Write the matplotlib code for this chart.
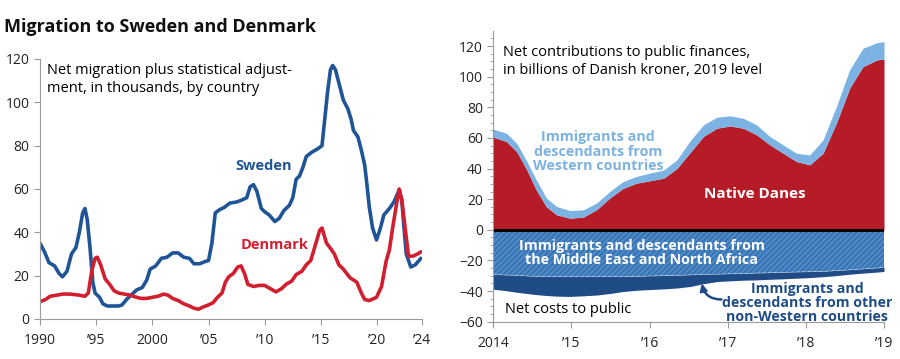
import numpy as np
import matplotlib
matplotlib.use("Agg")
import matplotlib.pyplot as plt

plt.rcParams['font.family'] = ['Open Sans', 'DejaVu Sans']
plt.rcParams['hatch.linewidth'] = 1.2

# ---- left panel: net migration, thousands ----
sweden_years = [1990.0, 1990.4, 1990.8, 1991.3, 1991.7, 1992.0, 1992.4, 1992.8, 1993.2, 1993.5,
                1993.8, 1994.0, 1994.2, 1994.45, 1994.7, 1994.9, 1995.3, 1995.6, 1996.0, 1996.5,
                1997.0, 1997.3, 1997.7, 1998.1, 1998.6, 1999.1, 1999.5, 1999.8, 2000.3, 2000.8,
                2001.3, 2001.8, 2002.3, 2002.8, 2003.3, 2003.7, 2004.2, 2004.7, 2005.0, 2005.3,
                2005.6, 2006.0, 2006.4, 2006.9, 2007.5, 2008.0, 2008.4, 2008.7, 2009.0, 2009.3,
                2009.7, 2010.0, 2010.4, 2010.9, 2011.3, 2011.7, 2012.2, 2012.5, 2012.8, 2013.1,
                2013.4, 2013.7, 2014.2, 2014.7, 2015.1, 2015.3, 2015.6, 2015.85, 2016.05, 2016.3,
                2016.6, 2017.0, 2017.4, 2017.7, 2017.9, 2018.3, 2018.6, 2018.9, 2019.1, 2019.3,
                2019.6, 2019.95, 2020.3, 2020.6, 2021.1, 2021.5, 2021.97, 2022.2, 2022.4, 2022.6,
                2023.0, 2023.4, 2023.9]
sweden_vals = [35, 31, 26, 24.5, 21, 19.5, 22, 30, 33, 40,
               49, 51, 46, 33, 17, 12, 10, 7, 6, 6,
               6, 6.5, 9, 11, 13.4, 14.5, 18, 23, 24.5, 28,
               28.5, 30.5, 30.5, 28.5, 28, 25.5, 25.5, 26.5, 27, 35,
               49, 50.5, 51.5, 53.5, 54, 55, 56, 61, 62, 59,
               51, 49.5, 48, 45, 46.5, 50, 52.5, 56, 64.5, 66,
               70, 75, 77, 78.5, 80, 90, 105, 115, 117, 115,
               109, 101, 97, 92, 87, 84, 78, 71, 62, 52,
               42, 36.5, 42, 48, 51, 54, 59.5, 55, 42, 30,
               24, 25, 28]

denmark_years = [1990.0, 1990.5, 1990.9, 1991.5, 1992.0, 1992.7, 1993.5, 1994.0, 1994.3, 1994.6,
                 1994.9, 1995.1, 1995.4, 1995.8, 1996.2, 1996.6, 1997.0, 1997.5, 1998.0, 1998.6,
                 1999.0, 1999.5, 2000.0, 2000.5, 2001.0, 2001.4, 2001.8, 2002.3, 2002.8, 2003.3,
                 2003.7, 2004.1, 2004.5, 2005.0, 2005.4, 2005.8, 2006.2, 2006.5, 2006.8, 2007.2,
                 2007.6, 2007.9, 2008.2, 2008.5, 2009.0, 2009.5, 2010.0, 2010.5, 2011.0, 2011.5,
                 2011.9, 2012.4, 2012.8, 2013.3, 2013.7, 2014.1, 2014.5, 2014.9, 2015.1, 2015.5,
                 2015.8, 2016.2, 2016.6, 2017.0, 2017.6, 2018.2, 2018.6, 2018.9, 2019.3, 2019.95,
                 2020.4, 2020.8, 2021.1, 2021.4, 2021.7, 2021.97, 2022.2, 2022.5, 2022.8, 2023.2,
                 2023.6, 2023.9]
denmark_vals = [8, 9, 10.5, 11, 11.5, 11.5, 11, 10.5, 12, 22,
                28, 28.5, 25, 18.5, 16, 13, 12, 11.5, 11, 10,
                9.5, 9.5, 10, 10.5, 11.5, 11, 9.5, 8.5, 7, 6,
                5, 4.5, 5.5, 6.5, 7.5, 10, 12, 17, 19.5, 21,
                24, 24.5, 21, 16, 15, 15.5, 15.5, 14, 12.5, 14,
                16, 17.5, 20.5, 22, 25, 27, 34, 41, 42, 35,
                33, 30, 25, 23, 19, 17, 12, 9, 8.5, 10,
                15, 26.5, 32, 42.5, 52, 60, 55, 42, 29, 29,
                30, 31]

left_ticks = [1990, 1995, 2000, 2005, 2010, 2015, 2020, 2024]
left_tick_labels = ['1990', '\u201995', '2000', '\u201905', '\u201910', '\u201915', '\u201920', '\u201924']

# ---- right panel: net contributions, billions DKK ----
fin_years = [2014.0, 2014.17, 2014.30, 2014.43, 2014.55, 2014.68, 2014.81, 2014.98,
             2015.15, 2015.32, 2015.49, 2015.66, 2015.83, 2016.0, 2016.18, 2016.35,
             2016.52, 2016.69, 2016.86, 2017.03, 2017.2, 2017.37, 2017.54, 2017.71,
             2017.88, 2018.05, 2018.22, 2018.39, 2018.56, 2018.73, 2018.91, 2019.0]
native_danes = [60.5, 57.6, 51, 39, 26, 15, 9.8, 7.6,
                8.3, 13, 20.7, 27, 30.4, 32, 33.7, 40,
                50.5, 61, 66.3, 67.8, 66.3, 62, 55.4, 50,
                44.6, 42.4, 50, 69.6, 92.4, 106.5, 110.9, 111.5]
western = [5.2, 5.4, 5.5, 5.6, 6.6, 5.7, 5.4, 5.0,
           4.7, 4.4, 4.3, 4.5, 4.4, 5.0, 5.3, 5.7,
           7.7, 7.5, 7.2, 6.6, 6.5, 6.5, 5.5, 5.4,
           5.4, 6.5, 8.7, 10.8, 12.0, 12.0, 11.3, 11.3]
mena = [-29, -29.4, -29.7, -30, -30.3, -30.5, -30.5, -30.5,
        -30.5, -30.5, -30.5, -30.5, -30.3, -30, -29.8, -29.6,
        -29.3, -29, -28.8, -28.6, -28.4, -28.1, -27.9, -27.6,
        -27.4, -27.2, -27, -26.5, -26, -25.4, -24.8, -24.4]
other_nonwestern = [-9.8, -10.4, -11.1, -11.6, -12.0, -12.4, -12.8, -13.0,
                    -12.6, -12.1, -11.1, -9.8, -9.2, -9.0, -8.8, -8.4,
                    -7.7, -6.2, -5.0, -4.7, -4.5, -4.6, -4.4, -4.4,
                    -4.2, -4.0, -3.6, -3.4, -3.0, -2.9, -2.8, -2.8]

right_ticks = [2014, 2015, 2016, 2017, 2018, 2019]
right_tick_labels = ['2014', '\u201915', '\u201916', '\u201917', '\u201918', '\u201919']

SWE_BLUE = '#1f5597'
DK_RED = '#d11f2f'
NATIVE_RED = '#b51c27'
WEST_BLUE = '#7cb3e2'
MENA_BLUE = '#4e8ac8'
MENA_HATCH = '#3670b0'
OTHER_BLUE = '#1f4c86'

fig = plt.figure(figsize=(9, 3.59), dpi=100)

fig.text(0.004, 0.925, 'Migration to Sweden and Denmark', fontsize=13, fontweight='bold',
         ha='left', va='center', color='#111111')

# left chart
ax1 = fig.add_axes([40 / 900, 1 - 319 / 359, (422 - 40) / 900, (319 - 59) / 359])
ax1.plot(sweden_years, sweden_vals, color=SWE_BLUE, lw=2.6, solid_joinstyle='round', solid_capstyle='round')
ax1.plot(denmark_years, denmark_vals, color=DK_RED, lw=2.6, solid_joinstyle='round', solid_capstyle='round')
ax1.set_xlim(1990, 2024)
ax1.set_ylim(0, 120)
ax1.set_xticks(left_ticks)
ax1.set_xticklabels(left_tick_labels)
ax1.set_yticks(range(0, 121, 20))
for s in ['top', 'right']:
    ax1.spines[s].set_visible(False)
for s in ['left', 'bottom']:
    ax1.spines[s].set_color('#9a9a9a')
    ax1.spines[s].set_linewidth(0.8)
ax1.tick_params(axis='both', direction='out', length=4, width=0.8, color='#9a9a9a',
                labelsize=10, labelcolor='#222222')
ax1.tick_params(axis='x', pad=6)
ax1.text(0.018, 0.985, 'Net migration plus statistical adjust-\nment, in thousands, by country',
         transform=ax1.transAxes, ha='left', va='top', fontsize=10.5, linespacing=1.25)
ax1.text(2009.9, 70.5, 'Sweden', color=SWE_BLUE, fontsize=10.5, fontweight='bold', ha='center', va='center')
ax1.text(2010.9, 34, 'Denmark', color=DK_RED, fontsize=10.5, fontweight='bold', ha='center', va='center')

# right chart
ax2 = fig.add_axes([493.3 / 900, 1 - 321.7 / 359, (884 - 493.3) / 900, (321.7 - 30.7) / 359])
native = np.array(native_danes)
west_top = native + np.array(western)
mena_arr = np.array(mena)
other_bot = mena_arr + np.array(other_nonwestern)
ax2.fill_between(fin_years, 0, native, color=NATIVE_RED, lw=0)
ax2.fill_between(fin_years, native, west_top, color=WEST_BLUE, lw=0)
ax2.fill_between(fin_years, 0, mena_arr, facecolor=MENA_BLUE, edgecolor=MENA_HATCH, hatch='//////', lw=0)
ax2.fill_between(fin_years, mena_arr, other_bot, color=OTHER_BLUE, lw=0)
ax2.axhline(0, color='black', lw=2.2)
ax2.set_xlim(2014, 2019)
ax2.set_ylim(-60, 130)
ax2.set_xticks(right_ticks)
ax2.set_xticklabels(right_tick_labels)
ax2.set_yticks(range(-60, 121, 20))
ax2.set_yticks(range(-60, 130, 5), minor=True)
for s in ['top', 'right']:
    ax2.spines[s].set_visible(False)
for s in ['left', 'bottom']:
    ax2.spines[s].set_color('#9a9a9a')
    ax2.spines[s].set_linewidth(0.8)
ax2.tick_params(axis='both', which='major', direction='out', length=4, width=0.8, color='#9a9a9a',
                labelsize=10, labelcolor='#222222')
ax2.tick_params(axis='y', which='minor', direction='out', length=2.5, width=0.6, color='#9a9a9a')
ax2.tick_params(axis='x', pad=6)

ax2.text(0.025, 0.95, 'Net contributions to public finances,\nin billions of Danish kroner, 2019 level',
         transform=ax2.transAxes, ha='left', va='top', fontsize=10.5, linespacing=1.25)
ax2.text(2015.34, 51, 'Immigrants and\ndescendants from\nWestern countries', color=WEST_BLUE,
         fontsize=10.3, fontweight='bold', ha='center', va='center', linespacing=1.05)
ax2.text(2017.35, 23.5, 'Native Danes', color='white', fontsize=11, fontweight='bold',
         ha='center', va='center')
ax2.text(2015.9, -15, 'Immigrants and descendants from\nthe Middle East and North Africa', color='white',
         fontsize=10.3, fontweight='bold', ha='center', va='center', linespacing=1.05)
ax2.text(2018.02, -47.5, 'Immigrants and\ndescendants from other\nnon-Western countries', color=OTHER_BLUE,
         fontsize=10.2, fontweight='bold', ha='center', va='center', linespacing=1.0)
ax2.annotate('', xy=(2016.67, -35), xytext=(2016.92, -45.5),
             arrowprops=dict(arrowstyle='-|>', color=OTHER_BLUE, lw=1.8,
                             connectionstyle='arc3,rad=-0.4', mutation_scale=10,
                             shrinkA=0, shrinkB=0))
ax2.text(0.03, 0.015, 'Net costs to public', transform=ax2.transAxes, ha='left', va='bottom', fontsize=10.5)

fig.savefig('out.png', dpi=100)
